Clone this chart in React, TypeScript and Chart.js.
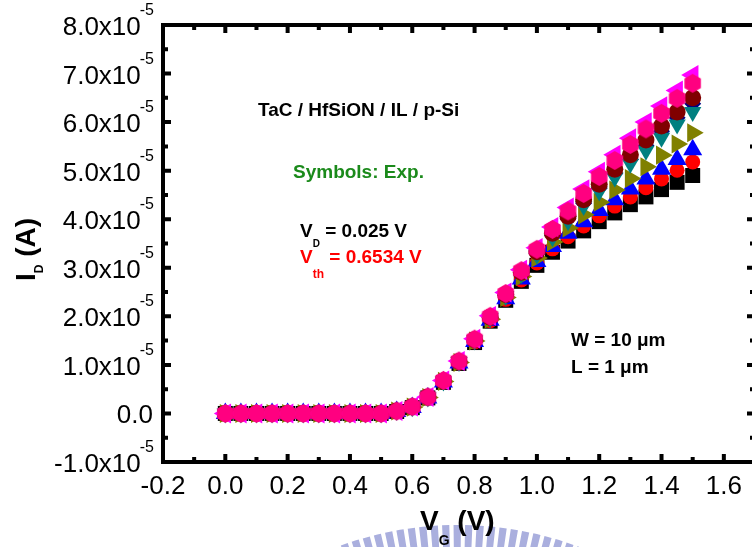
import React, { useEffect, useRef } from "react";
import { Chart, registerables } from "chart.js";

Chart.register(...registerables);

// Gate voltage (V)
const X_VALUES = [0.0, 0.05, 0.1, 0.15, 0.2, 0.25, 0.3, 0.35, 0.4, 0.45, 0.5, 0.55, 0.6, 0.65, 0.7, 0.75, 0.8, 0.85, 0.9, 0.95, 1.0, 1.05, 1.1, 1.15, 1.2, 1.25, 1.3, 1.35, 1.4, 1.45, 1.5];

// Drain current in units of 1e-5 A
const BLACK_SQUARE = [0, 0, 0, 0, 0, 0, 0, 0, 0, 0, 0, 0.04, 0.12, 0.32, 0.64, 1.03, 1.46, 1.9, 2.33, 2.72, 3.05, 3.32, 3.55, 3.76, 3.95, 4.13, 4.3, 4.46, 4.61, 4.76, 4.9];
const RED_CIRCLE = [0, 0, 0, 0, 0, 0, 0, 0, 0, 0, 0, 0.04, 0.12, 0.32, 0.65, 1.04, 1.47, 1.91, 2.35, 2.75, 3.1, 3.39, 3.64, 3.86, 4.07, 4.27, 4.46, 4.65, 4.83, 5.01, 5.18];
const BLUE_TRIANGLE = [0, 0, 0, 0, 0, 0, 0, 0, 0, 0, 0, 0.04, 0.12, 0.32, 0.65, 1.04, 1.48, 1.92, 2.36, 2.77, 3.13, 3.44, 3.71, 3.95, 4.18, 4.4, 4.62, 4.83, 5.03, 5.23, 5.43];
const OLIVE_RIGHT = [0, 0, 0, 0, 0, 0, 0, 0, 0, 0, 0, 0.05, 0.13, 0.33, 0.66, 1.05, 1.49, 1.94, 2.39, 2.82, 3.2, 3.53, 3.82, 4.09, 4.35, 4.6, 4.84, 5.08, 5.32, 5.55, 5.78];
const NAVY_DIAMOND = [0, 0, 0, 0, 0, 0, 0, 0, 0, 0, 0, 0.05, 0.13, 0.33, 0.67, 1.06, 1.51, 1.97, 2.43, 2.89, 3.3, 3.67, 4.01, 4.33, 4.64, 4.94, 5.23, 5.52, 5.81, 6.09, 6.38];
const TEAL_DOWN = [0, 0, 0, 0, 0, 0, 0, 0, 0, 0, 0, 0.05, 0.13, 0.33, 0.66, 1.06, 1.5, 1.96, 2.42, 2.87, 3.27, 3.63, 3.96, 4.27, 4.57, 4.86, 5.14, 5.41, 5.68, 5.95, 6.21];
const MAROON_CIRCLE = [0, 0, 0, 0, 0, 0, 0, 0, 0, 0, 0, 0.05, 0.14, 0.34, 0.67, 1.07, 1.52, 1.98, 2.45, 2.91, 3.33, 3.71, 4.06, 4.4, 4.72, 5.03, 5.33, 5.63, 5.92, 6.21, 6.5];
const MAGENTA_LEFT = [0, 0, 0, 0, 0, 0, 0, 0, 0, 0, 0, 0.05, 0.14, 0.34, 0.68, 1.08, 1.54, 2.01, 2.49, 2.96, 3.41, 3.84, 4.24, 4.62, 4.98, 5.33, 5.67, 6.0, 6.33, 6.65, 6.97];
const PINK_HEXAGON = [0, 0, 0, 0, 0, 0, 0, 0, 0, 0, 0, 0.05, 0.14, 0.34, 0.68, 1.08, 1.53, 2.0, 2.47, 2.94, 3.38, 3.79, 4.17, 4.53, 4.88, 5.21, 5.54, 5.86, 6.18, 6.49, 6.8];

const X_MAJOR_TICKS = [-0.2, 0.0, 0.2, 0.4, 0.6, 0.8, 1.0, 1.2, 1.4, 1.6];
const X_MAJOR_LABELS = ["-0.2", "0.0", "0.2", "0.4", "0.6", "0.8", "1.0", "1.2", "1.4", "1.6"];
const X_MINOR_TICKS = [-0.1, 0.1, 0.3, 0.5, 0.7, 0.9, 1.1, 1.3, 1.5, 1.7];
const Y_MAJOR_TICKS = [-1, 0, 1, 2, 3, 4, 5, 6, 7, 8];
const Y_MAJOR_LABELS = ["-1.0x10", "0.0", "1.0x10", "2.0x10", "3.0x10", "4.0x10", "5.0x10", "6.0x10", "7.0x10", "8.0x10"];
const Y_EXPONENTS = ["-5", "", "-5", "-5", "-5", "-5", "-5", "-5", "-5", "-5"];
const Y_MINOR_TICKS = [-0.5, 0.5, 1.5, 2.5, 3.5, 4.5, 5.5, 6.5, 7.5];

const FONT = "'Liberation Sans', Arial, sans-serif";

function makeHexagon(color: string, r: number): HTMLCanvasElement {
  const c = document.createElement("canvas");
  const s = Math.ceil(r * 2 + 2);
  c.width = s;
  c.height = s;
  const g = c.getContext("2d")!;
  g.fillStyle = color;
  g.beginPath();
  for (let k = 0; k < 6; k++) {
    const a = Math.PI / 2 + (k * Math.PI) / 3;
    const px = s / 2 + r * Math.cos(a);
    const py = s / 2 - r * Math.sin(a);
    if (k === 0) g.moveTo(px, py);
    else g.lineTo(px, py);
  }
  g.closePath();
  g.fill();
  return c;
}

type Part = { t: string; size: number; dy: number };

function drawParts(ctx: CanvasRenderingContext2D, x: number, y: number, parts: Part[], color: string) {
  ctx.fillStyle = color;
  ctx.textAlign = "left";
  ctx.textBaseline = "alphabetic";
  let cx = x;
  for (const p of parts) {
    ctx.font = `bold ${p.size}px ${FONT}`;
    ctx.fillText(p.t, cx, y + p.dy);
    cx += ctx.measureText(p.t).width;
  }
}

const decorPlugin = {
  id: "decor",
  afterDraw(chart: any) {
    const ctx: CanvasRenderingContext2D = chart.ctx;
    const xs = chart.scales.x;
    const ys = chart.scales.y;
    const { left, right, top, bottom } = chart.chartArea;

    // watermark
    ctx.save();
    ctx.strokeStyle = "rgb(170,175,222)";
    ctx.lineWidth = 30;
    ctx.setLineDash([7, 4]);
    ctx.beginPath();
    ctx.arc(458, 870, 330, Math.PI * 1.05, Math.PI * 1.95);
    ctx.stroke();
    ctx.restore();

    // frame
    ctx.save();
    ctx.strokeStyle = "#000";
    ctx.lineWidth = 4;
    ctx.strokeRect(left, top, right - left, bottom - top);

    ctx.lineWidth = 4;
    ctx.beginPath();
    for (const v of X_MAJOR_TICKS) {
      const px = xs.getPixelForValue(v);
      ctx.moveTo(px, bottom);
      ctx.lineTo(px, bottom - 8);
      ctx.moveTo(px, top);
      ctx.lineTo(px, top + 8);
    }
    for (const v of X_MINOR_TICKS) {
      const px = xs.getPixelForValue(v);
      ctx.moveTo(px, bottom);
      ctx.lineTo(px, bottom - 5);
      ctx.moveTo(px, top);
      ctx.lineTo(px, top + 5);
    }
    for (const v of Y_MAJOR_TICKS) {
      const py = ys.getPixelForValue(v);
      ctx.moveTo(left, py);
      ctx.lineTo(left + 8, py);
      ctx.moveTo(right, py);
      ctx.lineTo(right - 8, py);
    }
    for (const v of Y_MINOR_TICKS) {
      const py = ys.getPixelForValue(v);
      ctx.moveTo(left, py);
      ctx.lineTo(left + 5, py);
      ctx.moveTo(right, py);
      ctx.lineTo(right - 5, py);
    }
    ctx.stroke();

    // x tick labels
    ctx.fillStyle = "#000";
    ctx.font = `26px ${FONT}`;
    ctx.textAlign = "center";
    ctx.textBaseline = "alphabetic";
    X_MAJOR_TICKS.forEach((v, i) => {
      ctx.fillText(X_MAJOR_LABELS[i], xs.getPixelForValue(v), 494);
    });

    // y tick labels
    Y_MAJOR_TICKS.forEach((v, i) => {
      const py = ys.getPixelForValue(v);
      const exp = Y_EXPONENTS[i];
      ctx.textAlign = "right";
      let rx = 154;
      if (exp) {
        ctx.font = `16px ${FONT}`;
        ctx.fillText(exp, rx, py - 10);
        rx -= ctx.measureText(exp).width - 1;
      } else {
        rx = 153;
      }
      ctx.font = `26px ${FONT}`;
      ctx.fillText(Y_MAJOR_LABELS[i], rx, py + 10);
    });

    // axis titles
    drawParts(ctx, 420, 530, [
      { t: "V", size: 28, dy: 0 },
      { t: "G", size: 14, dy: 15 },
      { t: " (V)", size: 28, dy: 0 },
    ], "#000");

    ctx.save();
    ctx.translate(35, 281);
    ctx.rotate(-Math.PI / 2);
    drawParts(ctx, 0, 0, [
      { t: "I", size: 28, dy: 0 },
      { t: "D", size: 12, dy: 8 },
      { t: " (A)", size: 28, dy: 0 },
    ], "#000");
    ctx.restore();

    // annotations
    drawParts(ctx, 258, 116, [{ t: "TaC / HfSiON / IL / p-Si", size: 19, dy: 0 }], "#000");
    drawParts(ctx, 293, 178, [{ t: "Symbols: Exp.", size: 19, dy: 0 }], "#1b8a1b");
    drawParts(ctx, 300, 237, [
      { t: "V", size: 19, dy: 0 },
      { t: "D", size: 10, dy: 10 },
      { t: " = 0.025 V", size: 19, dy: 0 },
    ], "#000");
    drawParts(ctx, 300, 263, [
      { t: "V", size: 19, dy: 0 },
      { t: "th", size: 12, dy: 15 },
      { t: " = 0.6534 V", size: 19, dy: 0 },
    ], "#ff0000");
    drawParts(ctx, 571, 346, [{ t: "W = 10 \u03bcm", size: 19, dy: 0 }], "#000");
    drawParts(ctx, 571, 373, [{ t: "L = 1 \u03bcm", size: 19, dy: 0 }], "#000");
    ctx.restore();
  },
};

function series(values: number[], color: string, style: any, radius: number, rotation = 0) {
  return {
    data: X_VALUES.map((x, i) => ({ x, y: values[i] })),
    backgroundColor: color,
    borderColor: color,
    pointBackgroundColor: color,
    pointBorderColor: color,
    pointBorderWidth: 0,
    pointStyle: style,
    pointRadius: radius,
    pointRotation: rotation,
    showLine: false,
    clip: false as any,
  };
}

export default function App() {
  const ref = useRef<HTMLCanvasElement | null>(null);

  useEffect(() => {
    document.body.style.margin = "0";
    const canvas = ref.current!;
    const pinkHex = makeHexagon("#ff0080", 9.5);
    const chart = new Chart(canvas, {
      type: "scatter",
      data: {
        datasets: [
          series(PINK_HEXAGON, "#ff0080", pinkHex, 9.5),
          series(MAGENTA_LEFT, "#ff00ff", "triangle", 11.5, -90),
          series(MAROON_CIRCLE, "#800000", "circle", 8.5),
          series(TEAL_DOWN, "#008080", "triangle", 10, 180),
          series(NAVY_DIAMOND, "#000080", "rectRot", 8.5),
          series(OLIVE_RIGHT, "#808000", "triangle", 11, 90),
          series(BLUE_TRIANGLE, "#0000ff", "triangle", 11),
          series(RED_CIRCLE, "#ff0000", "circle", 7.5),
          series(BLACK_SQUARE, "#000000", "rect", 10.6),
        ] as any,
      },
      options: {
        animation: false,
        responsive: false,
        events: [],
        layout: { padding: { left: 163, top: 25, right: 15, bottom: 85 } },
        plugins: { legend: { display: false }, tooltip: { enabled: false } },
        scales: {
          x: { type: "linear", min: -0.2, max: 1.7, display: false },
          y: { type: "linear", min: -1, max: 8, display: false },
        },
      },
      plugins: [decorPlugin],
    });
    return () => chart.destroy();
  }, []);

  return (
    <div style={{ position: "fixed", left: 0, top: 0, width: 752, height: 547, overflow: "hidden", background: "#fff" }}>
      <canvas ref={ref} width={770} height={547} style={{ display: "block", width: 770, height: 547 }} />
    </div>
  );
}
